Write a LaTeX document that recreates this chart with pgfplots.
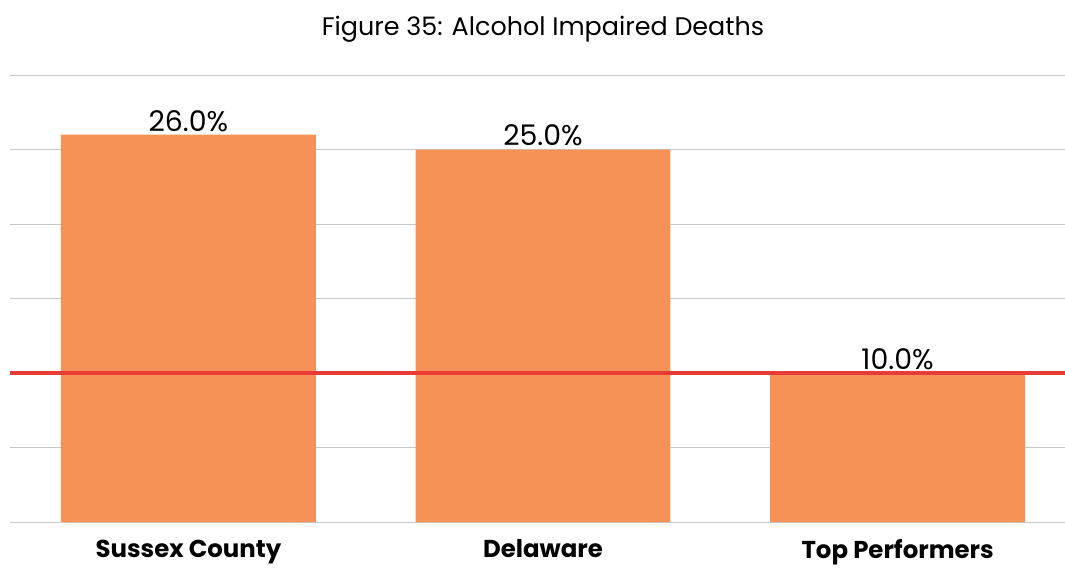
\documentclass[border=0pt]{standalone}
\usepackage{pgfplots}
\pgfplotsset{compat=1.18}
\usepackage{fontspec}
\setmainfont{Poppins}
\definecolor{barorange}{HTML}{F79256}
\definecolor{targetred}{HTML}{E63B37}
\definecolor{gridgray}{HTML}{C8C8C8}
\begin{document}
\begin{tikzpicture}
\begin{axis}[
  name=ax,
  scale only axis,
  width=1055bp, height=447bp,
  xmin=-0.503, xmax=2.472,
  ymin=0, ymax=30,
  axis line style={draw=none},
  ytick={0,5,10,15,20,25,30},
  yticklabels={},
  ymajorgrids,
  grid style={gridgray, line width=1bp},
  major tick style={draw=none},
  xtick={0,1,2},
  xticklabels={Sussex County, Delaware, Top Performers},
  xticklabel style={font=\fontsize{24.5}{28}\selectfont\bfseries, yshift=-10bp},
  ybar, bar width=0.719,
  nodes near coords,
  point meta=explicit symbolic,
  every node near coord/.append style={font=\fontsize{28.5}{32}\selectfont, black, inner sep=3bp},
  clip=false,
]
\addplot[fill=barorange, draw=none] coordinates {(0,26) [26.0\%] (1,25) [25.0\%] (2,10) [10.0\%]};
\addplot[sharp plot, targetred, line width=3.2bp, forget plot, nodes near coords={}] coordinates {(-0.503,10) (2.472,10)};
\end{axis}
\node[font=\fontsize{25.5}{30}\selectfont] at ([yshift=46bp]ax.north -| 543bp-10bp,0) {Figure 35: Alcohol Impaired Deaths};
\pgfresetboundingbox
\path[use as bounding box] ([xshift=-10bp,yshift=-47bp]ax.south west) rectangle ([yshift=75bp]ax.north east);
\end{tikzpicture}
\end{document}
